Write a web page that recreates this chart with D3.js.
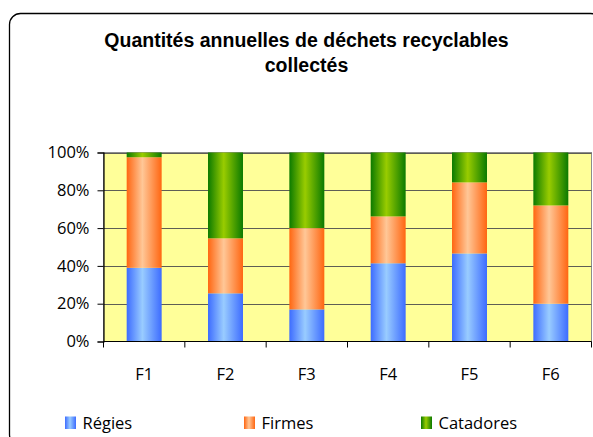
<!DOCTYPE html>
<html>
<head>
<meta charset="utf-8">
<script src="https://cdn.jsdelivr.net/npm/d3@7"></script>
<style>
  html, body { margin: 0; padding: 0; background: #fff; }
  svg { display: block; }
</style>
</head>
<body>
<svg id="chart" width="593" height="437"></svg>
<script>
// Annual share of recyclable waste collected, by collector type
const categories = ["F1", "F2", "F3", "F4", "F5", "F6"];
const regies    = [39.0, 25.5, 17.0, 41.4, 46.6, 20.0];
const firmes    = [58.5, 29.1, 43.0, 24.8, 37.6, 52.0];
const catadores = [2.5, 45.4, 40.0, 33.8, 15.8, 28.0];
const seriesNames = ["Régies", "Firmes", "Catadores"];
const yTicks = [0, 0.2, 0.4, 0.6, 0.8, 1.0];

const rows = categories.map((c, i) => ({
  cat: c, "Régies": regies[i], "Firmes": firmes[i], "Catadores": catadores[i]
}));

const svg = d3.select("#chart");
const plot = { left: 103.5, right: 591.5, top: 152.5, bottom: 341.5 };
const labelFont = "'Open Sans', 'Noto Sans', sans-serif";
const labelSize = 16.5;

// gradient fills: dark edges, light centre
const defs = svg.append("defs");
const grads = {
  "Régies":    ["#3d6cff", "#99ccff", "#3d6cff"],
  "Firmes":    ["#ff6611", "#ffc797", "#ff6611"],
  "Catadores": ["#0b7a00", "#99cc00", "#0b7a00"]
};
seriesNames.forEach((s, i) => {
  const g = defs.append("linearGradient")
    .attr("id", "grad" + i)
    .attr("x1", "0").attr("x2", "1").attr("y1", "0").attr("y2", "0");
  g.append("stop").attr("offset", "0%").attr("stop-color", grads[s][0]);
  g.append("stop").attr("offset", "45%").attr("stop-color", grads[s][1]);
  g.append("stop").attr("offset", "100%").attr("stop-color", grads[s][2]);
});

// outer chart frame
svg.append("rect")
  .attr("x", 9.5).attr("y", 13.5)
  .attr("width", 592).attr("height", 432)
  .attr("rx", 11).attr("ry", 11)
  .attr("fill", "#fff").attr("stroke", "#000").attr("stroke-width", 1.3);

// title
const title = svg.append("text")
  .attr("text-anchor", "middle")
  .attr("font-family", "'Liberation Sans', Arial, sans-serif")
  .attr("font-weight", "bold")
  .attr("font-size", 19.5)
  .attr("fill", "#000");
title.append("tspan").attr("x", 306.5).attr("y", 46.5)
  .text("Quantités annuelles de déchets recyclables");
title.append("tspan").attr("x", 306.5).attr("y", 71.5)
  .text("collectés");

const x = d3.scaleBand()
  .domain(categories)
  .range([plot.left, plot.right])
  .paddingInner(0.57)
  .paddingOuter(0.285);

const y = d3.scaleLinear().domain([0, 1]).range([plot.bottom, plot.top]);

// plot background
svg.append("rect")
  .attr("x", plot.left).attr("y", plot.top)
  .attr("width", plot.right - plot.left).attr("height", plot.bottom - plot.top)
  .attr("fill", "#ffff99")
  .attr("stroke", "#8c8c8c").attr("stroke-width", 1);

// horizontal gridlines
svg.append("g")
  .selectAll("line")
  .data(yTicks.filter(t => t > 0))
  .join("line")
  .attr("x1", plot.left).attr("x2", plot.right)
  .attr("y1", d => Math.round(y(d)) + 0.5).attr("y2", d => Math.round(y(d)) + 0.5)
  .attr("stroke", "#5e5e55").attr("stroke-width", 1.2);

// stacked bars, normalised to 100%
const stack = d3.stack().keys(seriesNames).offset(d3.stackOffsetExpand);
const layers = stack(rows);

svg.append("g")
  .selectAll("g")
  .data(layers)
  .join("g")
  .attr("fill", (d, i) => `url(#grad${i})`)
  .selectAll("rect")
  .data(d => d)
  .join("rect")
  .attr("x", d => x(d.data.cat))
  .attr("width", x.bandwidth())
  .attr("y", d => y(d[1]))
  .attr("height", d => y(d[0]) - y(d[1]));

// y axis
const yAxis = d3.axisLeft(y)
  .tickValues(yTicks)
  .tickFormat(d3.format(".0%"))
  .tickSize(6)
  .tickPadding(8);
const gy = svg.append("g")
  .attr("transform", `translate(${plot.left},0)`)
  .call(yAxis);
gy.select(".domain").attr("stroke", "#000").attr("stroke-width", 1.2);
gy.selectAll(".tick line").attr("stroke", "#000");
gy.selectAll(".tick text")
  .attr("font-family", labelFont)
  .attr("font-size", labelSize)
  .attr("fill", "#000");

// x axis: ticks sit between categories
const step = x.step();
const boundaries = d3.range(categories.length + 1).map(i => plot.left + i * step);
const gx = svg.append("g");
gx.append("line")
  .attr("x1", plot.left).attr("x2", plot.right)
  .attr("y1", plot.bottom).attr("y2", plot.bottom)
  .attr("stroke", "#000").attr("stroke-width", 1.2);
gx.selectAll("line.tk")
  .data(boundaries)
  .join("line").attr("class", "tk")
  .attr("x1", d => d).attr("x2", d => d)
  .attr("y1", plot.bottom).attr("y2", plot.bottom + 6)
  .attr("stroke", "#000");
gx.selectAll("text")
  .data(categories)
  .join("text")
  .attr("x", d => x(d) + x.bandwidth() / 2)
  .attr("y", 379.5)
  .attr("text-anchor", "middle")
  .attr("font-family", labelFont)
  .attr("font-size", labelSize)
  .attr("fill", "#000")
  .text(d => d);

// legend
const legendX = [65, 244, 421];
const legend = svg.append("g");
const items = legend.selectAll("g")
  .data(seriesNames)
  .join("g")
  .attr("transform", (d, i) => `translate(${legendX[i]},416.5)`);
items.append("rect")
  .attr("width", 11).attr("height", 12.5)
  .attr("fill", (d, i) => `url(#grad${i})`);
items.append("text")
  .attr("x", 17.5).attr("y", 12.5)
  .attr("font-family", labelFont)
  .attr("font-size", labelSize)
  .attr("fill", "#000")
  .text(d => d);
</script>
</body>
</html>
